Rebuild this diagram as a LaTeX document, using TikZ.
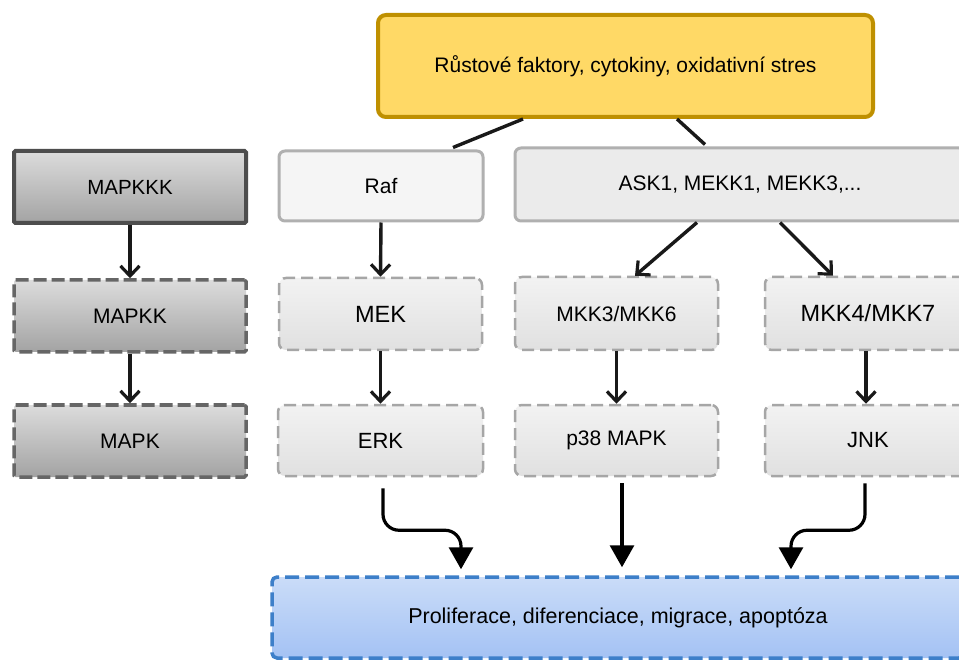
\documentclass[tikz,border=0pt]{standalone}
\usepackage{fontspec}
\setmainfont{Liberation Sans}
\usetikzlibrary{arrows.meta,calc}
\definecolor{goldfill}{HTML}{FFD966}
\definecolor{goldline}{HTML}{BF9000}
\definecolor{darkline}{HTML}{4D4D4D}
\definecolor{midline}{HTML}{666666}
\definecolor{lightline}{HTML}{B0B0B0}
\definecolor{dashline}{HTML}{A6A6A6}
\definecolor{blueline}{HTML}{3D7FC9}
\definecolor{bluetop}{HTML}{CADCF8}
\definecolor{bluebot}{HTML}{A4C2F4}
\definecolor{greytop}{HTML}{DCDCDC}
\definecolor{greybot}{HTML}{A3A3A3}
\newcommand{\fs}[1]{\fontsize{#1}{#1}\selectfont}
\tikzset{
  x=1pt, y=-1pt,
  basebox/.style={draw, inner sep=0pt, align=center, font=\fs{21}},
  topbox/.style={basebox, fill=goldfill, draw=goldline, line width=4pt, rounded corners=8pt,
    minimum width=495pt, minimum height=102pt},
  leftsolid/.style={basebox, draw=darkline, line width=4pt, rounded corners=1.5pt,
    top color=greytop, bottom color=greybot, minimum width=232pt, minimum height=72pt},
  leftdash/.style={basebox, draw=midline, line width=3.5pt, dash pattern=on 13pt off 5pt, rounded corners=1.5pt,
    top color=greytop, bottom color=greybot, minimum width=232pt, minimum height=72pt},
  solidbox/.style={basebox, draw=lightline, line width=3pt, rounded corners=6pt},
  dashbox/.style={basebox, draw=dashline, line width=2.5pt, dash pattern=on 12pt off 6pt, rounded corners=7pt,
    top color=black!5, bottom color=black!12, minimum height=72pt},
  bluebox/.style={basebox, draw=blueline, line width=3.5pt, dash pattern=on 14pt off 6pt, rounded corners=5pt,
    top color=bluetop, bottom color=bluebot},
  link/.style={line width=3.4pt, draw=black!90},
  arr/.style={line width=3.4pt, draw=black!90, -{Straight Barb[length=10pt,width=19pt,line width=3.2pt]}},
  bigarr/.style={line width=3.2pt, draw=black, rounded corners=16pt, -{Triangle[length=22pt,width=24pt]}}
}
\begin{document}
\begin{tikzpicture}
\path[use as bounding box] (0,0) rectangle (959,660);
\clip (0,0) rectangle (959,660);
\fill[white] (0,0) rectangle (959,660);

\node[topbox] (top) at (625.5,66) {Růstové faktory, cytokiny, oxidativní stres};

\node[leftsolid, font=\fs{20.5}] (mapkkk) at (130,187) {MAPKKK};
\node[leftdash] (mapkk) at (130,316) {MAPKK};
\node[leftdash] (mapk) at (130,441) {MAPK};

\node[solidbox, fill=black!4, minimum width=204pt, minimum height=70pt] (raf) at (381,186) {Raf};
\node[solidbox, fill=black!8, minimum width=450pt, minimum height=73pt] (ask) at (740,184.5) {ASK1, MEKK1, MEKK3,...};

\node[dashbox, minimum width=203pt, font=\fs{23.5}] (mek) at (380.5,314) {MEK};
\node[dashbox, minimum width=205pt, minimum height=71pt, font=\fs{22}] (erk) at (380.5,440.5) {ERK};
\node[dashbox, minimum width=203pt, minimum height=73pt] (mkk3) at (616.5,313.5) {MKK3/MKK6};
\node[dashbox, minimum width=206pt, minimum height=73pt, font=\fs{23.5}] (mkk4) at (868,313.5) {MKK4/MKK7};
\node[dashbox, minimum width=203pt, minimum height=71pt] (p38) at (616.5,440.5) {p38 MAPK};
\node[dashbox, minimum width=206pt, minimum height=71pt, font=\fs{22}] (jnk) at (868,440.5) {JNK};

\node[bluebox, minimum width=692pt, minimum height=81pt, font=\fs{21.5}] (bot) at (618,617.5) {Proliferace, diferenciace, migrace, apoptóza};

% connectors
\draw[link] ([xshift=-102.5pt]top.south) -- ([xshift=72pt,yshift=2pt]raf.north);
\draw[link] ([xshift=51.5pt]top.south) -- ([xshift=-35pt,yshift=2pt]ask.north);

\draw[arr] (mapkkk.south) -- (mapkk.north);
\draw[arr] (mapkk.south) -- (mapk.north);
\draw[arr] (raf.south) -- (mek.north);
\draw[arr] (mek.south) -- (erk.north);
\draw[arr] ([xshift=-43pt]ask.south) -- ([xshift=18.5pt]mkk3.north);
\draw[arr] ([xshift=40pt]ask.south) -- ([xshift=-35pt]mkk4.north);
\draw[arr] (mkk3.south) -- (p38.north);
\draw[arr] ([xshift=-2pt]mkk4.south) -- ([xshift=-2pt]jnk.north);

\draw[bigarr] ([xshift=2.5pt,yshift=-11pt]erk.south) -- ++(0,42) -| ([xshift=-157pt,yshift=6pt]bot.north);
\draw[bigarr] ([xshift=5.5pt,yshift=-6pt]p38.south) -- ([xshift=4pt,yshift=8pt]bot.north);
\draw[bigarr] ([xshift=-3pt,yshift=-6pt]jnk.south) -- ++(0,47) -| ([xshift=173pt,yshift=6pt]bot.north);
\end{tikzpicture}
\end{document}
